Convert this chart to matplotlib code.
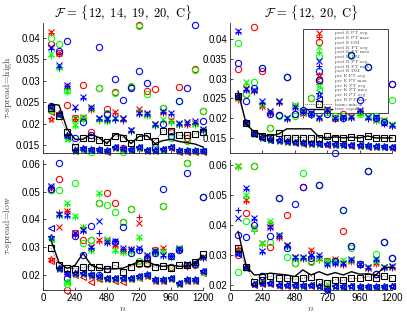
"""Recreate the 2x2 tau-spread comparison chart."""

import matplotlib
matplotlib.use("Agg")
import matplotlib.pyplot as plt
from matplotlib.ticker import FuncFormatter

plt.rcParams['font.family'] = 'Liberation Sans'
plt.rcParams['mathtext.fontset'] = 'cm'

N = [60, 120, 180, 240, 300, 360, 420, 480, 540, 600,
     660, 720, 780, 840, 900, 960, 1020, 1080, 1140, 1200]

LABELS = ['post E PT avg', 'post E PT max', 'post E DM',
          'post K PT avg', 'post K PT max', 'post K DM',
          'post R PT avg', 'post R PT max', 'post R DM',
          'pre E PT avg', 'pre E PT max', 'pre K PT avg', 'pre K PT max',
          'pre R PT avg', 'pre R PT max', 'homo min in', 'true copula']

# ---- top left: F = {12, 14, 19, 20, C}, tau-spread high
TL_EA = [.0415, .0365, .0285, .0213, .0215, .0235, .0212, .0212, .0228, .0210, .0185, .0233, .0222, .0198, .0228, .0208, .0200, .0200, .0202, .0185]
TL_EM = [.0412, .0362, .0282, .0210, .0212, .0232, .0209, .0209, .0225, .0207, .0182, .0230, .0219, .0195, .0225, .0205, .0197, .0197, .0199, .0182]
TL_ED = [.0385, .0366, .0243, .0213, .0289, .0180, .0283, .0233, .0273, .0142, .0285, .0430, .0275, .0281, .0237, .0180, .0285, .0165, .0327, .0229]
TL_KA = [.0362, .0331, .0276, .0196, .0212, .0237, .0210, .0207, .0213, .0212, .0184, .0226, .0221, .0197, .0210, .0205, .0199, .0203, .0200, .0185]
TL_KM = [.0359, .0328, .0273, .0193, .0209, .0234, .0207, .0204, .0210, .0209, .0181, .0223, .0218, .0194, .0207, .0202, .0196, .0200, .0197, .0182]
TL_KD = [.0400, .0385, .0278, .0210, .0212, .0134, .0283, .0225, .0272, .0134, .0287, .0428, .0270, .0140, .0236, .0167, .0253, .0160, .0325, .0229]
TL_RA = [.0378, .0336, .0290, .0238, .0262, .0239, .0214, .0211, .0212, .0212, .0185, .0225, .0225, .0200, .0230, .0225, .0201, .0203, .0205, .0187]
TL_RM = [.0375, .0333, .0287, .0235, .0259, .0236, .0211, .0208, .0209, .0209, .0182, .0222, .0222, .0197, .0227, .0222, .0198, .0200, .0202, .0184]
TL_RD = [.0240, .0370, .0393, .0166, .0204, .0173, .0380, .0222, .0305, .0256, .0282, .0323, .0294, .0145, .0199, .0170, .0253, .0282, .0430, .0207]
TL_pEA = [.0210, .0224, .0170, .0136, .0140, .0138, .0138, .0135, .0143, .0140, .0138, .0143, .0136, .0136, .0139, .0144, .0135, .0135, .0135, .0135]
TL_pEM = [.0228, .0220, .0168, .0135, .0139, .0137, .0137, .0134, .0142, .0139, .0137, .0142, .0135, .0135, .0138, .0143, .0134, .0134, .0134, .0134]
TL_pKA = [.0232, .0222, .0163, .0137, .0141, .0139, .0139, .0136, .0144, .0141, .0139, .0144, .0137, .0137, .0140, .0145, .0136, .0136, .0136, .0136]
TL_pKM = [.0235, .0221, .0165, .0136, .0140, .0138, .0138, .0135, .0143, .0140, .0138, .0143, .0136, .0136, .0139, .0144, .0135, .0135, .0135, .0135]
TL_pRA = [.0241, .0223, .0172, .0138, .0142, .0140, .0140, .0137, .0145, .0142, .0140, .0145, .0138, .0138, .0141, .0146, .0137, .0137, .0137, .0137]
TL_pRM = [.0238, .0222, .0170, .0137, .0141, .0139, .0139, .0136, .0144, .0141, .0139, .0144, .0137, .0137, .0140, .0145, .0136, .0136, .0136, .0136]
TL_HOMO = [.0237, .0218, .0181, .0144, .0167, .0165, .0162, .0157, .0171, .0167, .0155, .0169, .0170, .0160, .0183, .0183, .0172, .0173, .0176, .0180]
TL_TRUE = [.0245, .0243, .0188, .0163, .0163, .0175, .0167, .0153, .0175, .0172, .0153, .0170, .0172, .0153, .0160, .0163, .0158, .0155, .0152, .0145]

# ---- top right: F = {12, 20, C}, tau-spread high
TR_EA = [.0250, .0275, .0270, .0230, .0213, .0240, .0200, .0233, .0212, .0212, .0200, .0221, .0200, .0204, .0206, .0216, .0204, .0195, .0195, .0183]
TR_EM = [.0247, .0272, .0267, .0227, .0210, .0237, .0197, .0230, .0209, .0209, .0197, .0218, .0197, .0201, .0203, .0213, .0201, .0192, .0192, .0180]
TR_ED = [.0323, .0260, .0431, .0318, .0174, .0208, .0305, .0211, .0215, .0250, .0297, .0220, .0200, .0210, .0360, .0215, .0330, .0200, .0191, .0285]
TR_KA = [.0253, .0290, .0272, .0235, .0217, .0242, .0202, .0233, .0215, .0210, .0202, .0220, .0202, .0202, .0204, .0214, .0206, .0195, .0193, .0185]
TR_KM = [.0250, .0287, .0269, .0232, .0214, .0239, .0199, .0230, .0212, .0207, .0199, .0217, .0199, .0199, .0201, .0211, .0203, .0192, .0190, .0182]
TR_KD = [.0389, .0260, .0290, .0326, .0174, .0205, .0305, .0206, .0218, .0250, .0297, .0215, .0205, .0205, .0358, .0210, .0330, .0205, .0193, .0246]
TR_RA = [.0421, .0273, .0271, .0242, .0217, .0242, .0200, .0229, .0218, .0212, .0204, .0222, .0200, .0204, .0204, .0220, .0202, .0204, .0187, .0183]
TR_RM = [.0418, .0270, .0268, .0239, .0214, .0239, .0197, .0226, .0215, .0209, .0201, .0219, .0197, .0201, .0201, .0217, .0199, .0201, .0184, .0180]
TR_RD = [.0339, .0242, .0275, .0326, .0210, .0208, .0305, .0211, .0220, .0210, .0297, .0210, .0111, .0200, .0360, .0246, .0330, .0200, .0191, .0285]
TR_pEA = [.0255, .0187, .0160, .0150, .0145, .0143, .0141, .0139, .0137, .0136, .0135, .0134, .0133, .0132, .0131, .0130, .0129, .0128, .0127, .0126]
TR_pEM = [.0254, .0186, .0159, .0149, .0144, .0142, .0140, .0138, .0136, .0135, .0134, .0133, .0132, .0131, .0130, .0129, .0128, .0127, .0126, .0125]
TR_pKA = [.0256, .0188, .0161, .0151, .0146, .0144, .0142, .0140, .0138, .0137, .0136, .0135, .0134, .0133, .0132, .0131, .0130, .0129, .0128, .0127]
TR_pKM = [.0255, .0187, .0160, .0150, .0145, .0143, .0141, .0139, .0137, .0136, .0135, .0134, .0133, .0132, .0131, .0130, .0129, .0128, .0127, .0126]
TR_pRA = [.0257, .0189, .0162, .0152, .0147, .0145, .0143, .0141, .0139, .0138, .0137, .0136, .0135, .0134, .0133, .0132, .0131, .0130, .0129, .0128]
TR_pRM = [.0256, .0188, .0161, .0151, .0146, .0144, .0142, .0140, .0138, .0137, .0136, .0135, .0134, .0133, .0132, .0131, .0130, .0129, .0128, .0127]
TR_HOMO = [.0255, .0187, .0162, .0155, .0152, .0162, .0151, .0151, .0151, .0151, .0149, .0155, .0151, .0151, .0153, .0151, .0155, .0151, .0151, .0151]
TR_TRUE = [.0268, .0185, .0165, .0158, .0155, .0160, .0173, .0173, .0173, .0173, .0152, .0150, .0153, .0150, .0152, .0150, .0155, .0150, .0150, .0150]

# ---- bottom left: F = {12, 14, 19, 20, C}, tau-spread low
BL_EA = [.0515, .0374, .0432, .0350, .0362, .0300, .0326, .0325, .0309, .0290, .0290, .0386, .0265, .0290, .0296, .0270, .0296, .0235, .0240, .0265]
BL_EM = [.0512, .0428, .0430, .0345, .0374, .0298, .0322, .0322, .0306, .0287, .0288, .0410, .0262, .0287, .0293, .0268, .0293, .0230, .0237, .0262]
BL_ED = [.0506, .0545, .0146, .0350, .0326, .0325, .0458, .0494, .0458, .0392, .0437, .0240, .0240, .0290, .0449, .0230, .0295, .0605, .0235, .0482]
BL_KA = [.0521, .0415, .0458, .0412, .0374, .0290, .0496, .0330, .0290, .0284, .0285, .0336, .0272, .0280, .0285, .0265, .0296, .0240, .0240, .0266]
BL_KM = [.0518, .0412, .0455, .0410, .0370, .0288, .0493, .0327, .0287, .0281, .0282, .0333, .0269, .0277, .0282, .0262, .0293, .0237, .0237, .0263]
BL_KD = [.0506, .0506, .0166, .0530, .0314, .0325, .0458, .0452, .0428, .0392, .0437, .0250, .0245, .0285, .0449, .0225, .0295, .0605, .0240, .0482]
BL_RA = [.0521, .0420, .0416, .0352, .0362, .0302, .0396, .0320, .0324, .0297, .0295, .0298, .0272, .0285, .0272, .0270, .0294, .0238, .0245, .0266]
BL_RM = [.0518, .0417, .0413, .0349, .0359, .0299, .0353, .0317, .0321, .0294, .0292, .0295, .0269, .0282, .0269, .0267, .0291, .0235, .0242, .0263]
BL_RD = [.0509, .0605, .0188, .0340, .0272, .0377, .0200, .0220, .0320, .0372, .0280, .0290, .0260, .0280, .0510, .0270, .0290, .0569, .0240, .0482]
BL_pEA = [.0256, .0222, .0208, .0204, .0202, .0196, .0190, .0186, .0186, .0186, .0186, .0192, .0198, .0180, .0180, .0186, .0168, .0180, .0180, .0210]
BL_pEM = [.0252, .0220, .0204, .0200, .0194, .0176, .0184, .0184, .0180, .0176, .0184, .0190, .0196, .0178, .0178, .0184, .0166, .0178, .0178, .0208]
BL_pKA = [.0335, .0224, .0176, .0206, .0206, .0200, .0194, .0188, .0188, .0188, .0188, .0194, .0200, .0182, .0182, .0188, .0170, .0182, .0182, .0212]
BL_pKM = [.0330, .0223, .0180, .0205, .0205, .0199, .0193, .0187, .0187, .0187, .0187, .0193, .0199, .0181, .0181, .0187, .0169, .0181, .0181, .0211]
BL_pRA = [.0338, .0226, .0206, .0208, .0208, .0202, .0196, .0190, .0190, .0190, .0190, .0196, .0202, .0184, .0184, .0190, .0172, .0184, .0184, .0214]
BL_pRM = [.0368, .0225, .0205, .0207, .0207, .0201, .0195, .0189, .0189, .0189, .0189, .0195, .0201, .0183, .0183, .0189, .0171, .0183, .0183, .0213]
BL_HOMO = [.0296, .0236, .0224, .0222, .0228, .0230, .0228, .0221, .0236, .0212, .0230, .0242, .0242, .0228, .0232, .0224, .0236, .0236, .0248, .0276]
BL_TRUE = [.0325, .0245, .0224, .0235, .0278, .0236, .0224, .0222, .0222, .0225, .0236, .0249, .0249, .0236, .0231, .0236, .0231, .0231, .0242, .0270]

# ---- bottom right: F = {12, 20, C}, tau-spread low
BR_EA = [.0597, .0483, .0392, .0339, .0403, .0360, .0333, .0294, .0290, .0317, .0290, .0278, .0286, .0270, .0280, .0268, .0255, .0274, .0259, .0260]
BR_EM = [.0594, .0480, .0380, .0336, .0400, .0357, .0330, .0291, .0287, .0314, .0283, .0275, .0283, .0267, .0277, .0265, .0252, .0271, .0256, .0257]
BR_ED = [.0300, .0439, .0597, .0230, .0326, .0489, .0433, .0272, .0526, .0280, .0533, .0280, .0280, .0380, .0330, .0270, .0578, .0236, .0342, .0289]
BR_KA = [.0597, .0500, .0392, .0339, .0413, .0367, .0330, .0290, .0290, .0300, .0290, .0278, .0280, .0283, .0282, .0268, .0258, .0278, .0259, .0262]
BR_KM = [.0594, .0497, .0378, .0336, .0410, .0364, .0327, .0287, .0287, .0297, .0287, .0275, .0277, .0280, .0279, .0265, .0255, .0275, .0256, .0259]
BR_KD = [.0244, .0413, .0597, .0225, .0344, .0489, .0294, .0272, .0572, .0275, .0533, .0275, .0280, .0450, .0322, .0270, .0578, .0303, .0342, .0289]
BR_RA = [.0424, .0522, .0422, .0313, .0394, .0367, .0333, .0294, .0294, .0300, .0299, .0270, .0274, .0272, .0286, .0270, .0259, .0286, .0259, .0263]
BR_RM = [.0450, .0519, .0419, .0310, .0391, .0364, .0330, .0291, .0291, .0297, .0296, .0267, .0271, .0269, .0283, .0267, .0256, .0283, .0256, .0260]
BR_RD = [.0367, .0361, .0400, .0230, .0363, .0489, .0322, .0470, .0526, .0290, .0533, .0185, .0280, .0450, .0330, .0270, .0578, .0236, .0342, .0289]
BR_pEA = [.0318, .0261, .0202, .0205, .0205, .0199, .0199, .0199, .0197, .0199, .0196, .0195, .0196, .0193, .0196, .0193, .0193, .0193, .0193, .0196]
BR_pEM = [.0315, .0259, .0201, .0204, .0204, .0198, .0198, .0198, .0196, .0198, .0195, .0194, .0195, .0192, .0195, .0192, .0192, .0192, .0192, .0195]
BR_pKA = [.0310, .0257, .0203, .0206, .0206, .0200, .0200, .0200, .0198, .0200, .0197, .0196, .0197, .0194, .0197, .0194, .0194, .0194, .0194, .0197]
BR_pKM = [.0308, .0256, .0202, .0205, .0205, .0199, .0199, .0199, .0197, .0199, .0196, .0195, .0196, .0193, .0196, .0193, .0193, .0193, .0193, .0196]
BR_pRA = [.0306, .0258, .0204, .0207, .0207, .0201, .0201, .0201, .0199, .0201, .0198, .0186, .0198, .0195, .0198, .0195, .0195, .0195, .0195, .0198]
BR_pRM = [.0304, .0256, .0203, .0206, .0206, .0200, .0200, .0200, .0198, .0200, .0197, .0183, .0197, .0194, .0197, .0194, .0194, .0194, .0194, .0197]
BR_HOMO = [.0322, .0261, .0211, .0217, .0230, .0222, .0222, .0219, .0222, .0228, .0211, .0208, .0217, .0215, .0222, .0222, .0228, .0222, .0230, .0224]
BR_TRUE = [.0378, .0263, .0233, .0235, .0239, .0236, .0233, .0228, .0250, .0233, .0244, .0233, .0241, .0233, .0244, .0236, .0237, .0233, .0258, .0259]

RED, GREEN, BLUE = (1, 0, 0), (0, 1, 0), (0, 0, 1)
COLORS = [RED, RED, RED, GREEN, GREEN, GREEN, BLUE, BLUE, BLUE,
          RED, RED, GREEN, GREEN, BLUE, BLUE, 'k', 'k']
MARKERS = ['x', '+', 'o', 'x', '+', 'o', 'x', '+', 'o',
           '*', '<', '*', '<', '*', '<', 's', '']
SIZES = [4.5, 5, 4.5, 4.5, 5, 4.5, 4.5, 5, 4.5,
         5, 4, 5, 4, 5, 4, 4, 0]
STYLES = ['none'] * 15 + [':', '-']


def draw_panel(ax, series, ylim, yticks):
    lines = []
    for vals, lab, c, m, ms, ls in zip(series, LABELS, COLORS, MARKERS, SIZES, STYLES):
        lw = 1.0 if ls == '-' else 0.5
        ln, = ax.plot(N, vals, color=c, marker=m, markersize=ms, linestyle=ls,
                      linewidth=lw, markerfacecolor='none', markeredgewidth=0.8,
                      label=lab, clip_on=False)
        lines.append(ln)
    ax.set_xlim(0, 1200)
    ax.set_ylim(*ylim)
    ax.set_xticks([0, 240, 480, 720, 960, 1200])
    ax.set_yticks(yticks)
    ax.yaxis.set_major_formatter(FuncFormatter(lambda v, p: '%g' % v))
    ax.tick_params(direction='in', length=2, width=0.5, labelsize=7, pad=2)
    for s in ['top', 'right']:
        ax.spines[s].set_visible(False)
    for s in ['left', 'bottom']:
        ax.spines[s].set_linewidth(0.6)
        ax.spines[s].set_color('#262626')
    return lines


fig = plt.figure(figsize=(4.07, 3.14), dpi=100)
ax_tl = fig.add_axes([0.1057, 0.5127, 0.3931, 0.414])
ax_tr = fig.add_axes([0.5651, 0.5127, 0.398, 0.414])
ax_bl = fig.add_axes([0.1057, 0.0764, 0.3931, 0.414])
ax_br = fig.add_axes([0.5651, 0.0764, 0.398, 0.414])

high_ticks = [0.015, 0.02, 0.025, 0.03, 0.035, 0.04]
low_ticks = [0.02, 0.03, 0.04, 0.05, 0.06]

draw_panel(ax_tl, [TL_EA, TL_EM, TL_ED, TL_KA, TL_KM, TL_KD, TL_RA, TL_RM, TL_RD,
                   TL_pEA, TL_pEM, TL_pKA, TL_pKM, TL_pRA, TL_pRM, TL_HOMO, TL_TRUE],
           (0.0131, 0.0435), high_ticks)
lines = draw_panel(ax_tr, [TR_EA, TR_EM, TR_ED, TR_KA, TR_KM, TR_KD, TR_RA, TR_RM, TR_RD,
                           TR_pEA, TR_pEM, TR_pKA, TR_pKM, TR_pRA, TR_pRM, TR_HOMO, TR_TRUE],
                   (0.0112, 0.0440), high_ticks)
draw_panel(ax_bl, [BL_EA, BL_EM, BL_ED, BL_KA, BL_KM, BL_KD, BL_RA, BL_RM, BL_RD,
                   BL_pEA, BL_pEM, BL_pKA, BL_pKM, BL_pRA, BL_pRM, BL_HOMO, BL_TRUE],
           (0.0146, 0.0614), low_ticks)
draw_panel(ax_br, [BR_EA, BR_EM, BR_ED, BR_KA, BR_KM, BR_KD, BR_RA, BR_RM, BR_RD,
                   BR_pEA, BR_pEM, BR_pKA, BR_pKM, BR_pRA, BR_pRM, BR_HOMO, BR_TRUE],
           (0.0183, 0.0616), low_ticks)

for ax in (ax_tl, ax_tr):
    ax.set_xticklabels([])

title_a = r'$\mathcal{F}\,=\,\{12,\ 14,\ 19,\ 20,\ \mathrm{C}\}$'
title_b = r'$\mathcal{F}\,=\,\{12,\ 20,\ \mathrm{C}\}$'
ax_tl.set_title(title_a, fontsize=9, pad=4)
ax_tr.set_title(title_b, fontsize=9, pad=4)

ax_tl.set_ylabel(r'$\tau$-spread=high', fontfamily='cmr10', fontsize=7, color='#444444')
ax_bl.set_ylabel(r'$\tau$-spread=low', fontfamily='cmr10', fontsize=7, color='#444444')
for ax in (ax_tl, ax_bl):
    ax.yaxis.set_label_coords(-0.18, 0.5)
for ax in (ax_bl, ax_br):
    ax.set_xlabel(r'$n$', fontsize=7, labelpad=0, color='#444444')

leg = ax_tr.legend(handles=lines, loc='upper left', bbox_to_anchor=(0.45, 0.2, 0.525, 0.755),
                   mode='expand', borderaxespad=0, prop={'family': 'cmr10', 'size': 3.6},
                   labelspacing=0.05, handlelength=5.5, handletextpad=0.6, borderpad=0.4,
                   fancybox=False, edgecolor='#222222', framealpha=1)
leg.get_frame().set_linewidth(0.6)
for t in leg.get_texts():
    t.set_color('#444444')
leg.set_zorder(1.5)

fig.savefig('out.png', dpi=100)
